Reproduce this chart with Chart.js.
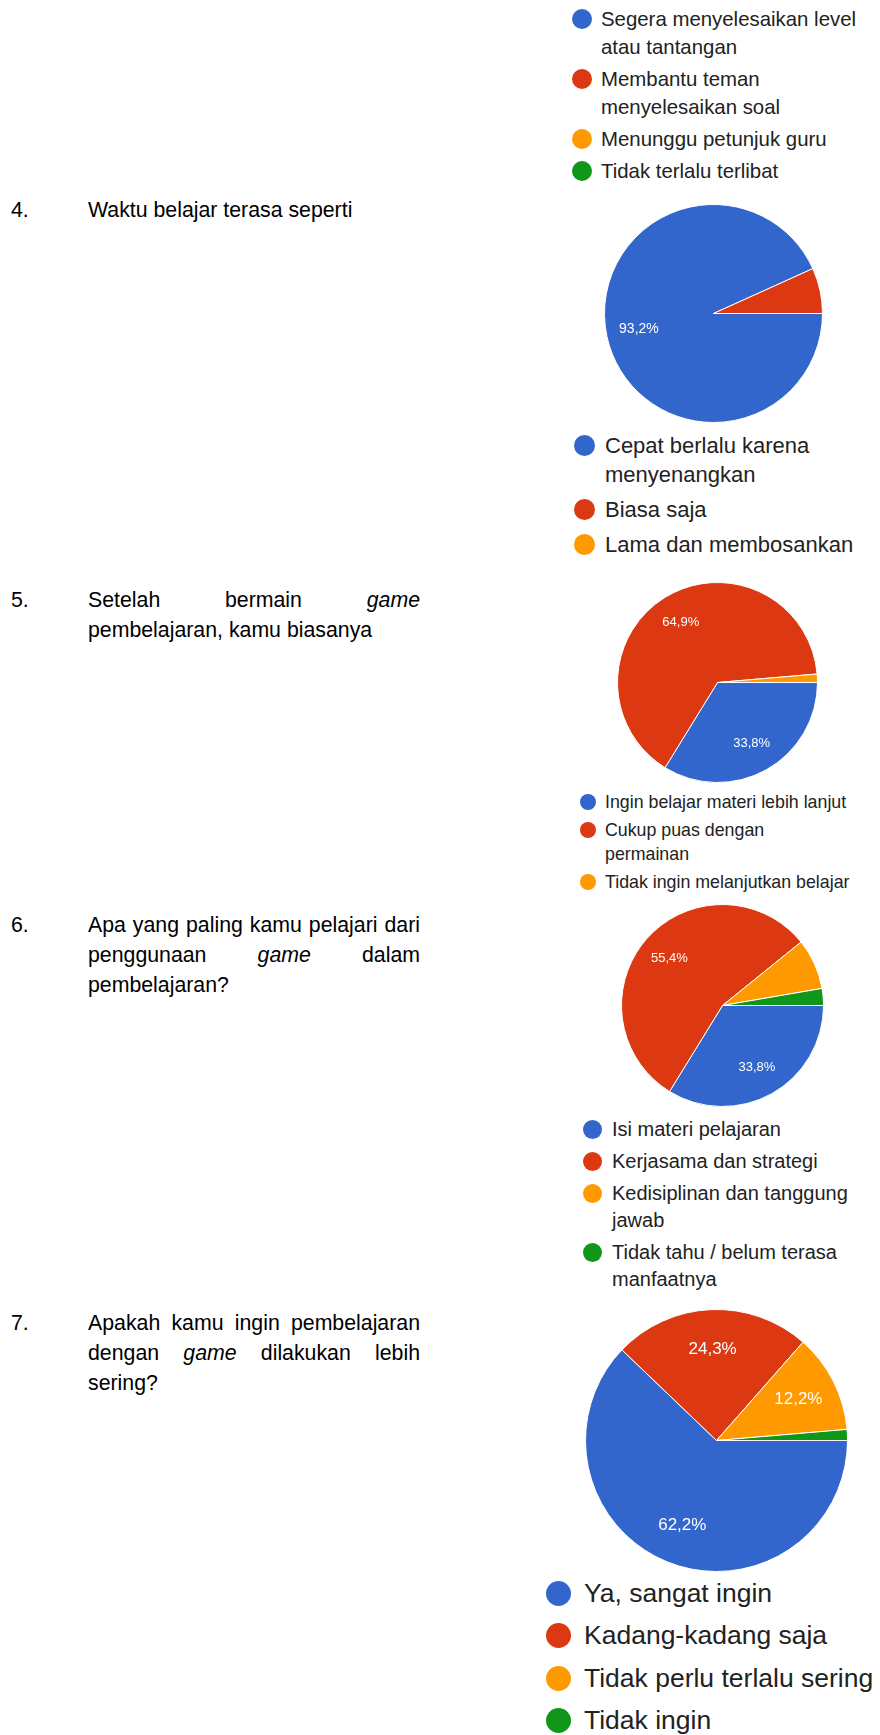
<!DOCTYPE html>
<html>
<head>
<meta charset="utf-8">
<script src="https://cdn.jsdelivr.net/npm/chart.js@4.4.1/dist/chart.umd.min.js"></script>
<style>
  html, body { margin: 0; padding: 0; background: #fff; }
  body { width: 880px; height: 1735px; position: relative; overflow: hidden; font-family: "Liberation Sans", Arial, sans-serif; }
  .q { position: absolute; left: 0; font-size: 21.3px; line-height: 30px; color: #000; }
  .q .num { position: absolute; left: 11px; top: 0; }
  .q .txt { position: absolute; left: 88px; top: 0; width: 332px; text-align: justify; }
  .legend { position: absolute; color: #222; }
  .legend .item { display: flex; align-items: flex-start; white-space: nowrap; }
  .legend .dot { flex: none; border-radius: 50%; }
  canvas.pie { position: absolute; }
</style>
</head>
<body>

<div class="q" style="top:194.6px"><span class="num">4.</span><div class="txt">Waktu belajar terasa seperti</div></div>
<div class="q" style="top:584.6px"><span class="num">5.</span><div class="txt">Setelah bermain <i>game</i> pembelajaran, kamu biasanya</div></div>
<div class="q" style="top:909.6px"><span class="num">6.</span><div class="txt">Apa yang paling kamu pelajari dari penggunaan <i>game</i> dalam pembelajaran?</div></div>
<div class="q" style="top:1307.6px"><span class="num">7.</span><div class="txt">Apakah kamu ingin pembelajaran dengan <i>game</i> dilakukan lebih sering?</div></div>

<div class="legend" id="leg3"></div>
<div class="legend" id="leg4"></div>
<div class="legend" id="leg5"></div>
<div class="legend" id="leg6"></div>
<div class="legend" id="leg7"></div>

<canvas class="pie" id="pie4"></canvas>
<canvas class="pie" id="pie5"></canvas>
<canvas class="pie" id="pie6"></canvas>
<canvas class="pie" id="pie7"></canvas>

<script>
const COLORS = ["#3366cc", "#dc3912", "#ff9900", "#109618"];

// question 3 (only its legend is visible)
const q3Labels = [["Segera menyelesaikan level", "atau tantangan"], ["Membantu teman", "menyelesaikan soal"], "Menunggu petunjuk guru", "Tidak terlalu terlibat"];

// question 4
const q4Labels = [["Cepat berlalu karena", "menyenangkan"], "Biasa saja", "Lama dan membosankan"];
const q4Counts = [69, 5, 0];

// question 5
const q5Labels = ["Ingin belajar materi lebih lanjut", ["Cukup puas dengan", "permainan"], "Tidak ingin melanjutkan belajar"];
const q5Counts = [25, 48, 1];

// question 6
const q6Labels = ["Isi materi pelajaran", "Kerjasama dan strategi", ["Kedisiplinan dan tanggung", "jawab"], ["Tidak tahu / belum terasa", "manfaatnya"]];
const q6Counts = [25, 41, 6, 2];

// question 7
const q7Labels = ["Ya, sangat ingin", "Kadang-kadang saja", "Tidak perlu terlalu sering", "Tidak ingin"];
const q7Counts = [46, 18, 9, 1];

function makeLegend(id, labels, cfg) {
  const el = document.getElementById(id);
  el.style.left = (cfg.dotX - cfg.dot / 2) + "px";
  el.style.top = (cfg.y - cfg.lh / 2) + "px";
  el.style.fontSize = cfg.font + "px";
  el.style.lineHeight = cfg.lh + "px";
  labels.forEach((label, i) => {
    const item = document.createElement("div");
    item.className = "item";
    item.style.marginBottom = cfg.gap + "px";
    const dot = document.createElement("span");
    dot.className = "dot";
    dot.style.width = cfg.dot + "px";
    dot.style.height = cfg.dot + "px";
    dot.style.marginTop = ((cfg.lh - cfg.dot) / 2) + "px";
    dot.style.background = COLORS[i];
    const txt = document.createElement("span");
    txt.style.marginLeft = (cfg.textX - cfg.dotX - cfg.dot / 2) + "px";
    txt.innerHTML = [].concat(label).join("<br>");
    item.appendChild(dot);
    item.appendChild(txt);
    el.appendChild(item);
  });
}

const pctLabels = {
  id: "pctLabels",
  afterDatasetsDraw(chart) {
    const ctx = chart.ctx;
    const data = chart.data.datasets[0].data;
    const total = data.reduce((a, b) => a + b, 0);
    chart.getDatasetMeta(0).data.forEach((arc, i) => {
      const pct = data[i] / total * 100;
      if (pct < 10) return;
      const { x, y, startAngle, endAngle, outerRadius } = arc.getProps(["x", "y", "startAngle", "endAngle", "outerRadius"], true);
      const mid = (startAngle + endAngle) / 2;
      const d = outerRadius * 0.7;
      ctx.save();
      ctx.fillStyle = "#fff";
      ctx.font = Math.round(outerRadius * 0.13) + 'px "Liberation Sans", Arial, sans-serif';
      ctx.textAlign = "center";
      ctx.textBaseline = "middle";
      ctx.fillText(pct.toFixed(1).replace(".", ",") + "%", x + Math.cos(mid) * d, y + Math.sin(mid) * d);
      ctx.restore();
    });
  }
};

function makePie(id, cx, cy, r, counts, labels) {
  const size = 2 * r + 1;
  const canvas = document.getElementById(id);
  canvas.width = size;
  canvas.height = size;
  canvas.style.width = size + "px";
  canvas.style.height = size + "px";
  canvas.style.left = (cx - size / 2) + "px";
  canvas.style.top = (cy - size / 2) + "px";
  new Chart(canvas, {
    type: "pie",
    data: {
      labels: labels.map(l => [].concat(l).join(" ")),
      datasets: [{
        data: counts,
        backgroundColor: COLORS,
        borderColor: "#fff",
        borderWidth: 1,
      }],
    },
    options: {
      responsive: false,
      animation: false,
      rotation: 90,
      layout: { padding: 0 },
      plugins: {
        legend: { display: false },
        tooltip: { enabled: false },
      },
    },
    plugins: [pctLabels],
  });
}

makeLegend("leg3", q3Labels, { dotX: 582, y: 19, dot: 20, font: 20.4, lh: 28, gap: 4, textX: 601 });
makeLegend("leg4", q4Labels, { dotX: 584, y: 445, dot: 21, font: 22, lh: 29, gap: 6, textX: 605 });
makeLegend("leg5", q5Labels, { dotX: 588, y: 802, dot: 16, font: 17.8, lh: 24, gap: 4, textX: 605 });
makeLegend("leg6", q6Labels, { dotX: 592, y: 1129, dot: 19, font: 20, lh: 27, gap: 5, textX: 612 });
makeLegend("leg7", q7Labels, { dotX: 558, y: 1593, dot: 25, font: 26.5, lh: 42.5, gap: 0, textX: 584 });

makePie("pie4", 713, 313, 109, q4Counts, q4Labels);
makePie("pie5", 717, 682, 100, q5Counts, q5Labels);
makePie("pie6", 722, 1005, 101, q6Counts, q6Labels);
makePie("pie7", 716, 1440, 131, q7Counts, q7Labels);
</script>
</body>
</html>
